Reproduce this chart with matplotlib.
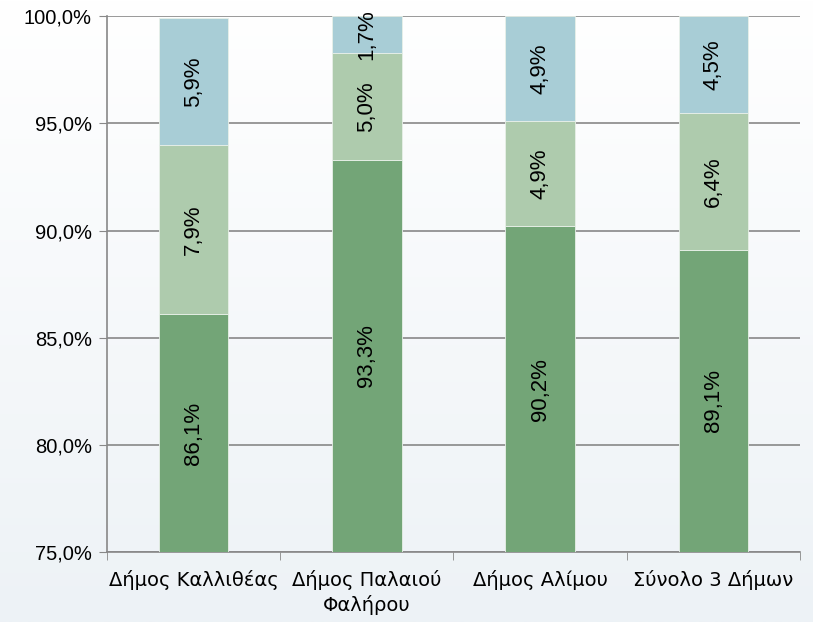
import numpy as np
import matplotlib.pyplot as plt
from matplotlib.colors import LinearSegmentedColormap

categories = ['Δήμος Καλλιθέας', 'Δήμος Παλαιού\nΦαλήρου', 'Δήμος Αλίμου', 'Σύνολο 3 Δήμων']
bottom_part = [86.1, 93.3, 90.2, 89.1]
middle_part = [7.9, 5.0, 4.9, 6.4]
top_part = [5.9, 1.7, 4.9, 4.5]
yticks = [75, 80, 85, 90, 95, 100]

colors = ['#73a577', '#aecbad', '#a8cdd6']

plt.rcParams['font.family'] = ['Liberation Sans', 'DejaVu Sans']

fig = plt.figure(figsize=(8.13, 6.22), dpi=100)

# soft vertical gradient behind everything
bg = fig.add_axes([0, 0, 1, 1], zorder=-10)
cmap = LinearSegmentedColormap.from_list('bg', ['#ffffff', '#edf2f6'])
bg.imshow(np.linspace(0, 1, 256).reshape(-1, 1), aspect='auto', cmap=cmap, extent=[0, 1, 0, 1])
bg.axis('off')

ax = fig.add_axes([0.1316, 0.1125, 0.8524, 0.8615])
ax.patch.set_alpha(0)

x = np.arange(len(categories))
w = 0.4
b1 = np.array(bottom_part)
b2 = b1 + np.array(middle_part)
ax.bar(x, bottom_part, w, color=colors[0], edgecolor='#e8f0e8', linewidth=0.6, zorder=3)
ax.bar(x, middle_part, w, bottom=b1, color=colors[1], edgecolor='#e8f0e8', linewidth=0.6, zorder=3)
ax.bar(x, top_part, w, bottom=b2, color=colors[2], edgecolor='#e8f0e8', linewidth=0.6, zorder=3)

def lbl(v):
    return ('%.1f%%' % v).replace('.', ',')

for i in range(len(categories)):
    ax.text(x[i], (75 + b1[i]) / 2, lbl(bottom_part[i]), rotation=90, ha='center', va='center', fontsize=16, zorder=4)
    ax.text(x[i], b1[i] + middle_part[i] / 2, lbl(middle_part[i]), rotation=90, ha='center', va='center', fontsize=16, zorder=4)
    ax.text(x[i], b2[i] + top_part[i] / 2, lbl(top_part[i]), rotation=90, ha='center', va='center', fontsize=16, zorder=4, clip_on=False)

ax.set_xlim(-0.5, 3.5)
ax.set_ylim(75, 100)
ax.set_yticks(yticks)
ax.set_yticklabels([('%.1f%%' % t).replace('.', ',') for t in yticks], fontsize=14.5)
ax.set_xticks(x)
ax.set_xticklabels(categories, fontsize=14, family=['DejaVu Sans'], linespacing=1.3)
ax.set_xticks([-0.5, 0.5, 1.5, 2.5, 3.5], minor=True)
ax.tick_params(axis='x', which='major', length=0, pad=13)
ax.tick_params(axis='x', which='minor', length=6, color='#888888', direction='out')
ax.tick_params(axis='y', length=6, color='#888888', direction='out', pad=5)
ax.grid(axis='y', color='#888888', linewidth=1.2, zorder=0)
for s in ['top', 'right']:
    ax.spines[s].set_visible(False)
for s in ['left', 'bottom']:
    ax.spines[s].set_color('#888888')
    ax.spines[s].set_linewidth(1.2)

fig.savefig('out.png', dpi=100)
